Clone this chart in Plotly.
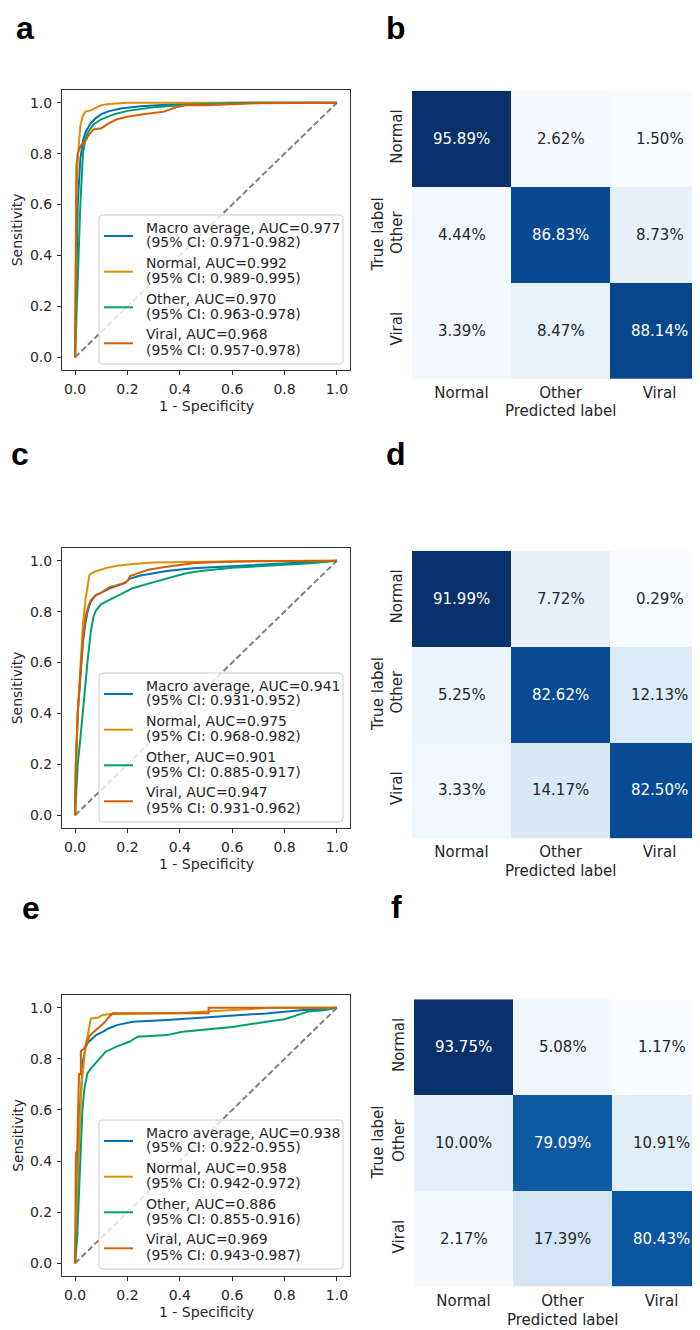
import plotly.graph_objects as go

# page body adds an 8px margin; design in reference pixels and shift
OFF = 8
W, H = 700 - OFF, 1330 - OFF
FONT = "DejaVu Sans"
TXT = "#262626"

CLASSES = ["Normal", "Other", "Viral"]
SERIES = ["Macro average", "Normal", "Other", "Viral"]
COLORS = ["#0173b2", "#de8f05", "#029e73", "#d55e00"]
TICKS = [0.0, 0.2, 0.4, 0.6, 0.8, 1.0]

# ---------------- panel a (ROC) ----------------
A_AUC = [0.977, 0.992, 0.970, 0.968]
A_CI = ["0.971-0.982", "0.989-0.995", "0.963-0.978", "0.957-0.978"]
A_MACRO_FPR = [0, 0.005, 0.01, 0.02, 0.03, 0.04, 0.06, 0.08, 0.1, 0.13, 0.18, 0.25, 0.35, 0.5, 0.6, 1]
A_MACRO_TPR = [0, 0.4, 0.6, 0.78, 0.85, 0.885, 0.92, 0.94, 0.955, 0.967, 0.978, 0.986, 0.992, 0.998, 1.0, 1]
A_NORMAL_FPR = [0, 0.002, 0.005, 0.01, 0.015, 0.02, 0.03, 0.04, 0.06, 0.08, 0.1, 0.13, 0.2, 1]
A_NORMAL_TPR = [0, 0.3, 0.6, 0.78, 0.85, 0.91, 0.95, 0.965, 0.97, 0.98, 0.99, 0.995, 1.0, 1]
A_OTHER_FPR = [0, 0.01, 0.02, 0.03, 0.04, 0.05, 0.07, 0.1, 0.15, 0.2, 0.3, 0.4, 0.55, 0.7, 1]
A_OTHER_TPR = [0, 0.3, 0.6, 0.8, 0.86, 0.885, 0.915, 0.935, 0.955, 0.968, 0.982, 0.99, 0.997, 1.0, 1]
A_VIRAL_FPR = [0, 0.002, 0.005, 0.01, 0.02, 0.04, 0.05, 0.07, 0.1, 0.13, 0.16, 0.2, 0.26, 0.34, 0.38, 0.42, 0.5, 0.7, 1]
A_VIRAL_TPR = [0, 0.5, 0.75, 0.8, 0.83, 0.85, 0.87, 0.895, 0.9, 0.92, 0.935, 0.945, 0.955, 0.965, 0.98, 0.99, 0.99, 0.998, 1]

# ---------------- panel c (ROC) ----------------
C_AUC = [0.941, 0.975, 0.901, 0.947]
C_CI = ["0.931-0.952", "0.968-0.982", "0.885-0.917", "0.931-0.962"]
C_MACRO_FPR = [0, 0.003, 0.01, 0.02, 0.03, 0.04, 0.05, 0.06, 0.08, 0.1, 0.14, 0.19, 0.21, 0.25, 0.3, 0.35, 0.45, 0.6, 0.75, 0.9, 1]
C_MACRO_TPR = [0, 0.2, 0.4, 0.55, 0.68, 0.76, 0.81, 0.84, 0.865, 0.875, 0.895, 0.912, 0.93, 0.942, 0.952, 0.96, 0.97, 0.978, 0.986, 0.993, 1]
C_NORMAL_FPR = [0, 0.003, 0.01, 0.02, 0.03, 0.04, 0.05, 0.055, 0.07, 0.09, 0.12, 0.16, 0.22, 0.3, 0.45, 0.7, 1]
C_NORMAL_TPR = [0, 0.2, 0.4, 0.6, 0.75, 0.85, 0.92, 0.945, 0.955, 0.963, 0.972, 0.98, 0.987, 0.993, 0.996, 0.999, 1]
C_OTHER_FPR = [0, 0.005, 0.01, 0.02, 0.028, 0.04, 0.047, 0.06, 0.07, 0.08, 0.1, 0.13, 0.16, 0.2, 0.22, 0.28, 0.35, 0.42, 0.48, 0.6, 0.7, 0.8, 0.9, 0.95, 1]
C_OTHER_TPR = [0, 0.1, 0.2, 0.3, 0.4, 0.52, 0.6, 0.72, 0.78, 0.805, 0.83, 0.845, 0.86, 0.88, 0.892, 0.91, 0.93, 0.95, 0.96, 0.972, 0.978, 0.983, 0.99, 0.995, 1]
C_VIRAL_FPR = [0, 0.003, 0.01, 0.02, 0.03, 0.04, 0.05, 0.06, 0.08, 0.1, 0.13, 0.18, 0.2, 0.21, 0.25, 0.28, 0.35, 0.45, 0.55, 0.7, 1]
C_VIRAL_TPR = [0, 0.2, 0.4, 0.55, 0.7, 0.78, 0.82, 0.845, 0.865, 0.875, 0.895, 0.91, 0.92, 0.94, 0.955, 0.965, 0.976, 0.99, 0.995, 0.998, 1]

# ---------------- panel e (ROC) ----------------
E_AUC = [0.938, 0.958, 0.886, 0.969]
E_CI = ["0.922-0.955", "0.942-0.972", "0.855-0.916", "0.943-0.987"]
E_MACRO_FPR = [0, 0.005, 0.01, 0.018, 0.025, 0.03, 0.04, 0.05, 0.066, 0.08, 0.105, 0.13, 0.16, 0.22, 0.35, 0.48, 0.6, 0.73, 0.86, 1]
E_MACRO_TPR = [0, 0.2, 0.4, 0.6, 0.74, 0.79, 0.845, 0.865, 0.88, 0.893, 0.906, 0.92, 0.932, 0.945, 0.952, 0.96, 0.968, 0.978, 0.99, 1]
E_NORMAL_FPR = [0, 0.005, 0.01, 0.015, 0.02, 0.025, 0.03, 0.035, 0.041, 0.05, 0.055, 0.06, 0.09, 0.1, 0.13, 0.2, 0.3, 0.4, 0.5, 0.6, 0.7, 0.75, 1]
E_NORMAL_TPR = [0, 0.15, 0.35, 0.5, 0.6, 0.7, 0.76, 0.8, 0.86, 0.9, 0.93, 0.958, 0.962, 0.97, 0.976, 0.976, 0.978, 0.98, 0.985, 0.99, 0.997, 1.0, 1]
E_OTHER_FPR = [0, 0.008, 0.012, 0.018, 0.022, 0.028, 0.035, 0.041, 0.047, 0.06, 0.075, 0.092, 0.117, 0.156, 0.207, 0.239, 0.35, 0.41, 0.48, 0.6, 0.73, 0.8, 0.86, 0.89, 0.95, 1]
E_OTHER_TPR = [0, 0.1, 0.2, 0.35, 0.45, 0.6, 0.68, 0.717, 0.743, 0.762, 0.78, 0.802, 0.828, 0.847, 0.867, 0.887, 0.893, 0.906, 0.913, 0.925, 0.945, 0.955, 0.975, 0.985, 0.99, 1]
E_VIRAL_FPR = [0, 0.002, 0.003, 0.008, 0.01, 0.013, 0.015, 0.022, 0.022, 0.034, 0.045, 0.055, 0.08, 0.095, 0.115, 0.13, 0.145, 0.51, 0.51, 1]
E_VIRAL_TPR = [0, 0.2, 0.43, 0.44, 0.58, 0.6, 0.74, 0.74, 0.83, 0.84, 0.86, 0.89, 0.913, 0.925, 0.945, 0.965, 0.979, 0.979, 1.0, 1]

# ---------------- confusion matrices (%), rows = true, cols = predicted ----------------
B_CM = [[95.89, 2.62, 1.50], [4.44, 86.83, 8.73], [3.39, 8.47, 88.14]]
D_CM = [[91.99, 7.72, 0.29], [5.25, 82.62, 12.13], [3.33, 14.17, 82.50]]
F_CM = [[93.75, 5.08, 1.17], [10.00, 79.09, 10.91], [2.17, 17.39, 80.43]]

BLUES = ["#f7fbff", "#deebf7", "#c6dbef", "#9ecae1", "#6baed6",
         "#4292c6", "#2171b5", "#08519c", "#08306b"]
BLUES_SCALE = [[i / 8, c] for i, c in enumerate(BLUES)]


def px(x):
    return (x - OFF) / W


def py(y):
    return 1 - (y - OFF) / H


fig = go.Figure()
shapes = []
annotations = []


def add_text(text, x, y, size, angle=0, xanchor="center", color=TXT, family=FONT):
    annotations.append(dict(text=text, xref="paper", yref="paper", x=px(x), y=py(y),
                            xanchor=xanchor, yanchor="middle", showarrow=False, textangle=angle,
                            font=dict(family=family, size=size, color=color)))


roc_panels = [
    ("a", 90, 370, "", [(A_MACRO_FPR, A_MACRO_TPR), (A_NORMAL_FPR, A_NORMAL_TPR),
                        (A_OTHER_FPR, A_OTHER_TPR), (A_VIRAL_FPR, A_VIRAL_TPR)], A_AUC, A_CI,
     (24.7, 27.5)),
    ("c", 548, 828, "3", [(C_MACRO_FPR, C_MACRO_TPR), (C_NORMAL_FPR, C_NORMAL_TPR),
                          (C_OTHER_FPR, C_OTHER_TPR), (C_VIRAL_FPR, C_VIRAL_TPR)], C_AUC, C_CI,
     (20, 454)),
    ("e", 995, 1276, "5", [(E_MACRO_FPR, E_MACRO_TPR), (E_NORMAL_FPR, E_NORMAL_TPR),
                           (E_OTHER_FPR, E_OTHER_TPR), (E_VIRAL_FPR, E_VIRAL_TPR)], E_AUC, E_CI,
     (31, 908)),
]

ROC_L, ROC_R = 62, 350

for label, top, bot, sfx, curves, aucs, cis, lab_pos in roc_panels:
    xa = "x" + sfx
    ya = "y" + sfx
    fig.add_trace(go.Scatter(x=[0, 1], y=[0, 1], mode="lines", xaxis=xa, yaxis=ya,
                             line=dict(color="#808080", width=2, dash="6px,3px"),
                             showlegend=False, hoverinfo="skip"))
    for (fpr, tpr), name, col in zip(curves, SERIES, COLORS):
        fig.add_trace(go.Scatter(x=fpr, y=tpr, mode="lines", xaxis=xa, yaxis=ya,
                                 line=dict(color=col, width=2), name=name, showlegend=False))
    ax_common = dict(showline=True, mirror=True, linecolor="#333333", linewidth=1,
                     ticks="outside", ticklen=4, tickcolor="#333333", tickwidth=1,
                     showgrid=False, zeroline=False, range=[-0.05, 1.05],
                     tickvals=TICKS, tickformat=".1f", automargin=False,
                     tickfont=dict(family=FONT, size=14, color=TXT))
    fig.update_layout(**{
        "xaxis" + sfx: dict(ax_common, domain=[px(ROC_L), px(ROC_R)], anchor=ya,
                            ticklabelstandoff=2),
        "yaxis" + sfx: dict(ax_common, domain=[py(bot), py(top)], anchor=xa,
                            ticklabelstandoff=2),
    })
    # axis titles
    add_text("1 - Specificity", (ROC_L + ROC_R) / 2 + 0.5, bot + 36, 14)
    add_text("Sensitivity", 17.3, (top + bot) / 2, 14, angle=-90)
    # legend box (drawn manually to match the reference)
    bx0, bx1, by0, by1, r = 99, 343, top + 125, top + 274, 4
    pts = [("M", bx0 + r, by0), ("L", bx1 - r, by0), ("Q", bx1, by0, bx1, by0 + r),
           ("L", bx1, by1 - r), ("Q", bx1, by1, bx1 - r, by1), ("L", bx0 + r, by1),
           ("Q", bx0, by1, bx0, by1 - r), ("L", bx0, by0 + r), ("Q", bx0, by0, bx0 + r, by0)]
    path = ""
    for p in pts:
        cmd, coords = p[0], p[1:]
        s = []
        for i in range(0, len(coords), 2):
            s.append(f"{px(coords[i]):.5f},{py(coords[i + 1]):.5f}")
        path += cmd + " " + " ".join(s) + " "
    path += "Z"
    shapes.append(dict(type="path", path=path, xref="paper", yref="paper",
                       fillcolor="rgba(255,255,255,0.8)",
                       line=dict(color="#cccccc", width=1), layer="above"))
    line1_off = [137.7, 173.3, 209.0, 244.3]
    line2_off = [152.3, 188.3, 224.0, 260.0]
    samp_off = [146.0, 181.7, 217.3, 253.3]
    for i, (name, col) in enumerate(zip(SERIES, COLORS)):
        shapes.append(dict(type="line", xref="paper", yref="paper",
                           x0=px(104), x1=px(133), y0=py(top + samp_off[i]), y1=py(top + samp_off[i]),
                           line=dict(color=col, width=2), layer="above"))
        add_text(f"{name}, AUC={aucs[i]:.3f}", 144, top + line1_off[i], 14, xanchor="left")
        add_text(f"(95% CI: {cis[i]})", 144, top + line2_off[i], 14, xanchor="left")
    add_text(f"<b>{label}</b>", lab_pos[0], lab_pos[1], 32, color="#000000", family="Liberation Sans")

cm_panels = [
    ("b", B_CM, 412, 90.7, 379, "2", (396, 27.5), 411),
    ("d", D_CM, 412, 550.7, 838.3, "4", (396, 454), 871),
    ("f", F_CM, 414, 999.3, 1286.7, "6", (397, 907), 1320),
]
CELL_W = 99.0

for label, cm, left, top, bot, sfx, lab_pos, xt_y in cm_panels:
    xa = "x" + sfx
    ya = "y" + sfx
    zmin = min(min(r) for r in cm)
    zmax = max(max(r) for r in cm)
    fig.add_trace(go.Heatmap(z=cm, x=[0, 1, 2], y=[0, 1, 2], xaxis=xa, yaxis=ya,
                             colorscale=BLUES_SCALE, zmin=zmin, zmax=zmax, showscale=False,
                             hovertemplate="%{z:.2f}%<extra></extra>"))
    for i in range(3):
        for j in range(3):
            v = cm[i][j]
            frac = (v - zmin) / (zmax - zmin)
            annotations.append(dict(text=f"{v:.2f}%", x=j, y=i, xref=xa, yref=ya,
                                    showarrow=False,
                                    font=dict(family=FONT, size=15,
                                              color="#ffffff" if frac > 0.6 else TXT)))
    xr_hi = -0.5 + (700 - left) / CELL_W
    common = dict(showline=False, showgrid=False, zeroline=False, ticks="",
                  automargin=False, tickvals=[0, 1, 2], ticktext=CLASSES,
                  tickfont=dict(family=FONT, size=15, color=TXT))
    fig.update_layout(**{
        "xaxis" + sfx: dict(common, domain=[px(left), 1.0], anchor=ya, range=[-0.5, xr_hi],
                            ticklabelstandoff=3),
        "yaxis" + sfx: dict(common, domain=[py(bot), py(top)], anchor=xa, range=[2.5, -0.5],
                            tickangle=-90, ticklabelstandoff=6),
    })
    add_text("Predicted label", left + 1.5 * CELL_W, xt_y, 15)
    add_text("True label", 377.5, (top + bot) / 2, 15, angle=-90)
    add_text(f"<b>{label}</b>", lab_pos[0], lab_pos[1], 32, color="#000000", family="Liberation Sans")

fig.update_layout(width=W, height=H, margin=dict(l=0, r=0, t=0, b=0),
                  paper_bgcolor="white", plot_bgcolor="white", template="none",
                  showlegend=False, shapes=shapes, annotations=annotations,
                  font=dict(family=FONT, color=TXT))

fig.write_html("out.html")
